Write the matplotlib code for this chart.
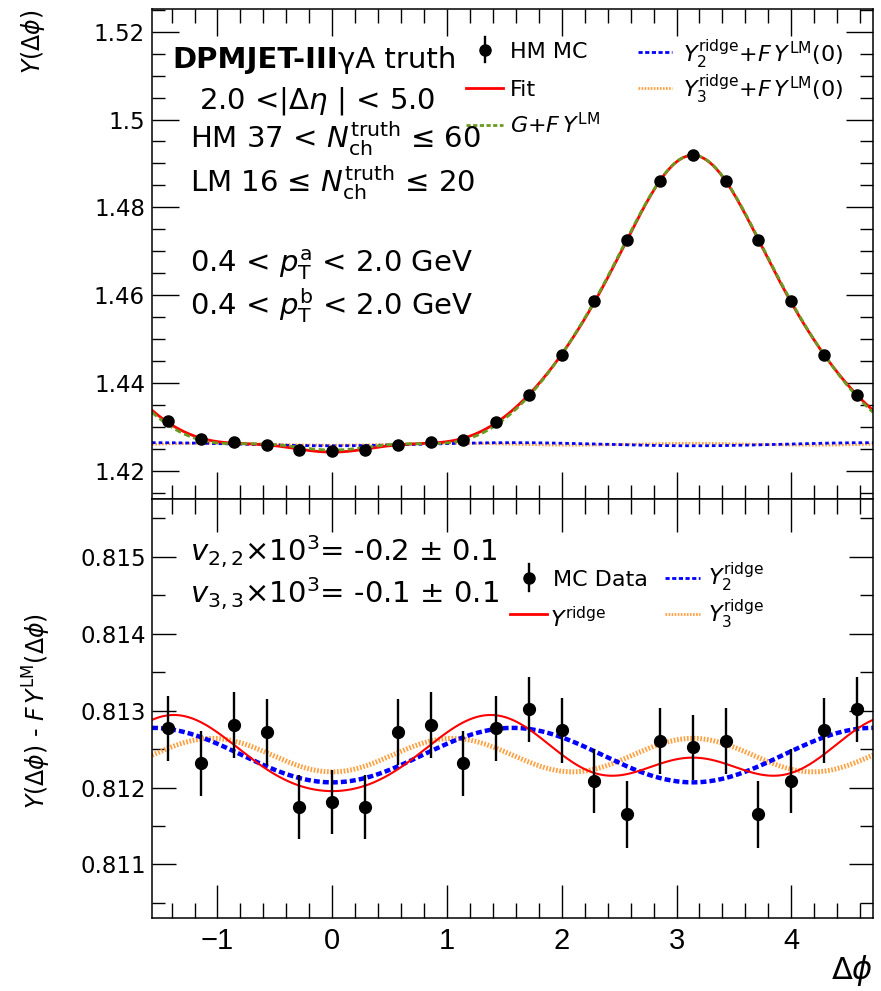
import numpy as np
import matplotlib
matplotlib.use("Agg")
import matplotlib.pyplot as plt
from matplotlib.lines import Line2D
from matplotlib.ticker import MultipleLocator, FuncFormatter

# ---------------------------------------------------------------- data
n_bins = 22
bin_edges = np.linspace(-np.pi / 2, 3 * np.pi / 2, n_bins + 1)
dphi = 0.5 * (bin_edges[:-1] + bin_edges[1:])

# HM per-trigger yield Y(dphi)
y_hm = [1.43126, 1.42726, 1.42648, 1.42596, 1.42470, 1.42462, 1.42470,
        1.42596, 1.42648, 1.42710, 1.43103, 1.43734, 1.44644, 1.45857,
        1.47260, 1.48603, 1.49195, 1.48603, 1.47260, 1.45857, 1.44644,
        1.43734]
y_hm_err = [0.00043, 0.00042, 0.00043, 0.00043, 0.00042, 0.00042, 0.00042,
            0.00043, 0.00043, 0.00042, 0.00043, 0.00042, 0.00042, 0.00042,
            0.00043, 0.00043, 0.00043, 0.00043, 0.00043, 0.00042, 0.00042,
            0.00042]

# HM yield after subtracting the scaled LM template, Y - F*Y_LM
y_sub = [0.812768, 0.812313, 0.812811, 0.812716, 0.811749, 0.811814,
         0.811749, 0.812716, 0.812811, 0.812313, 0.812768, 0.813016,
         0.812746, 0.812087, 0.811650, 0.812607, 0.812521, 0.812607,
         0.811650, 0.812087, 0.812746, 0.813016]
y_sub_err = [0.000427, 0.000418, 0.000427, 0.000429, 0.000420, 0.000416,
             0.000420, 0.000429, 0.000427, 0.000425, 0.000427, 0.000420,
             0.000423, 0.000416, 0.000431, 0.000429, 0.000427, 0.000429,
             0.000431, 0.000416, 0.000423, 0.000420]

# ridge parameters of the template fit
G_ridge = 0.812421
v22, v22_err = -0.218e-3, 0.1e-3
v33, v33_err = -0.134e-3, 0.1e-3
v44 = 0.064e-3
F_YLM0 = 0.61365          # F * Y_LM(0)

x_range = (-np.pi / 2, 3 * np.pi / 2)
y_range_top = (1.4136, 1.5251)
y_range_bot = (0.81030, 0.81575)

# ---------------------------------------------------------------- model curves
n_harm = 7


def cos_basis(x):
    return np.column_stack([np.cos(n * x) for n in range(n_harm + 1)])


coef, *_ = np.linalg.lstsq(cos_basis(dphi), np.asarray(y_hm), rcond=None)
phi = np.linspace(*x_range, 800)
fit_curve = cos_basis(phi) @ coef

ridge2 = G_ridge * (1 + 2 * v22 * np.cos(2 * phi))
ridge3 = G_ridge * (1 + 2 * v33 * np.cos(3 * phi))
ridge = G_ridge * (1 + 2 * v22 * np.cos(2 * phi) + 2 * v33 * np.cos(3 * phi)
                   + 2 * v44 * np.cos(4 * phi))
periph_curve = fit_curve - (ridge - G_ridge)      # G + F*Y_LM

# ---------------------------------------------------------------- style
plt.rcParams['font.family'] = ['DejaVu Sans']
plt.rcParams['mathtext.fontset'] = 'dejavusans'
plt.rcParams['lines.scale_dashes'] = False

RED = '#ff0000'
BLUE = '#0000ff'
ORANGE = '#ffa040'
GREEN = '#6a9a1f'

fig = plt.figure(figsize=(8.81, 9.91), dpi=100)
ax1 = fig.add_axes([0.17253, 0.49647, 0.81839, 0.49415])
ax2 = fig.add_axes([0.17253, 0.07336, 0.81839, 0.42311])

for ax in (ax1, ax2):
    ax.set_xlim(*x_range)
    for sp in ax.spines.values():
        sp.set_linewidth(1.1)
    ax.xaxis.set_major_locator(MultipleLocator(1))
    ax.xaxis.set_minor_locator(MultipleLocator(0.2))
    ax.tick_params(which='both', direction='in', top=True, right=True,
                   width=1.0, labelsize=16.5, pad=4)
    ax.yaxis.set_major_formatter(FuncFormatter(lambda v, p: f"{v:g}"))

ax1.set_ylim(*y_range_top)
ax1.yaxis.set_major_locator(MultipleLocator(0.02))
ax1.yaxis.set_minor_locator(MultipleLocator(0.005))
ax1.tick_params(axis='x', labelbottom=False)
ax1.tick_params(axis='x', which='major', length=19.5)
ax1.tick_params(axis='x', which='minor', length=10)
ax1.tick_params(axis='y', which='major', length=19.5, pad=5)
ax1.tick_params(axis='y', which='minor', length=9.5)

ax2.set_ylim(*y_range_bot)
ax2.yaxis.set_major_locator(MultipleLocator(0.001))
ax2.yaxis.set_minor_locator(MultipleLocator(0.0005))
ax2.tick_params(axis='x', which='major', length=23.8, labelsize=21,
                labelfontfamily='Liberation Sans', pad=6)
ax2.tick_params(axis='x', which='minor', length=10.8)
ax2.tick_params(axis='y', which='major', length=17.3)
ax2.tick_params(axis='y', which='minor', length=9.4)

# ---------------------------------------------------------------- top panel
ax1.plot(phi, ridge3 + F_YLM0, color=ORANGE, lw=2.0, dashes=(1.2, 1.2))
ax1.plot(phi, ridge2 + F_YLM0, color=BLUE, lw=2.0, dashes=(2.6, 2.2))
ax1.plot(phi, fit_curve, color=RED, lw=2.0)
ax1.plot(phi, periph_curve, color=GREEN, lw=2.0, dashes=(4.5, 2.5))
ax1.errorbar(dphi, y_hm, yerr=y_hm_err, fmt='o', color='black', ms=8,
             elinewidth=1.7, capsize=0, zorder=5)

# ---------------------------------------------------------------- bottom panel
ax2.plot(phi, ridge3, color=ORANGE, lw=3.6, dashes=(1.2, 1.2))
ax2.plot(phi, ridge2, color=BLUE, lw=3.2, dashes=(4.3, 2.2))
ax2.plot(phi, ridge, color=RED, lw=1.5)
ax2.errorbar(dphi, y_sub, yerr=y_sub_err, fmt='o', color='black', ms=8.5,
             elinewidth=1.7, capsize=0, zorder=5)

# ---------------------------------------------------------------- legends


def key_line(ax, x0, x1, y, **kw):
    ax.add_line(Line2D([x0, x1], [y, y], transform=ax.transAxes,
                       clip_on=False, **kw))


def key_point(ax, x, y, half):
    ax.add_line(Line2D([x, x], [y - half, y + half], transform=ax.transAxes,
                       color='black', lw=1.7, clip_on=False))
    ax.add_line(Line2D([x], [y], transform=ax.transAxes, marker='o', ms=8,
                       color='black', clip_on=False))


LEG = 16
key_point(ax1, 0.462, 0.917, 0.0255)
ax1.text(0.4965, 0.9006, 'HM MC', transform=ax1.transAxes, fontsize=LEG)
key_line(ax1, 0.4355, 0.4868, 0.839, color=RED, lw=2)
ax1.text(0.4965, 0.8229, 'Fit', transform=ax1.transAxes, fontsize=LEG)
key_line(ax1, 0.4355, 0.4868, 0.764, color=GREEN, lw=2, dashes=(3, 1.8))
ax1.text(0.4965, 0.7474, r'$G$+$F\,Y^{\mathrm{LM}}$', transform=ax1.transAxes,
         fontsize=LEG)
key_line(ax1, 0.674, 0.721, 0.913, color=BLUE, lw=2, dashes=(3, 1.8))
ax1.text(0.7365, 0.8924, r'$Y_{2}^{\mathrm{ridge}}$+$F\,Y^{\mathrm{LM}}$(0)',
         transform=ax1.transAxes, fontsize=LEG)
key_line(ax1, 0.674, 0.721, 0.839, color=ORANGE, lw=2, dashes=(1.2, 1.0))
ax1.text(0.7365, 0.8209, r'$Y_{3}^{\mathrm{ridge}}$+$F\,Y^{\mathrm{LM}}$(0)',
         transform=ax1.transAxes, fontsize=LEG)

key_point(ax2, 0.523, 0.8124, 0.033)
ax2.text(0.556, 0.7925, 'MC Data', transform=ax2.transAxes, fontsize=LEG)
key_line(ax2, 0.4965, 0.548, 0.7258, color=RED, lw=2)
ax2.text(0.552, 0.6947, r'$Y^{\mathrm{ridge}}$', transform=ax2.transAxes,
         fontsize=LEG)
key_line(ax2, 0.7115, 0.760, 0.8124, color=BLUE, lw=2, dashes=(3, 1.8))
ax2.text(0.771, 0.7949, r'$Y_{2}^{\mathrm{ridge}}$', transform=ax2.transAxes,
         fontsize=LEG)
key_line(ax2, 0.7115, 0.760, 0.7258, color=ORANGE, lw=2, dashes=(1.2, 1.0))
ax2.text(0.771, 0.7066, r'$Y_{3}^{\mathrm{ridge}}$', transform=ax2.transAxes,
         fontsize=LEG)

# ---------------------------------------------------------------- labels
TXT = 21
t1 = ax1.text(0.0277, 0.8801, 'DPMJET-III', transform=ax1.transAxes,
              fontsize=TXT, fontweight='bold')
ax1.annotate('\u03b3A truth', xy=(1, 0), xycoords=t1, fontsize=TXT,
             ha='left', va='bottom')
ax1.text(0.065, 0.798, r'2.0 <|$\Delta\eta$ | < 5.0', transform=ax1.transAxes,
         fontsize=TXT)
ax1.text(0.0527, 0.717, r'HM 37 < $N_{\mathrm{ch}}^{\mathrm{truth}}$ ≤ 60',
         transform=ax1.transAxes, fontsize=TXT)
ax1.text(0.0527, 0.627, r'LM 16 ≤ $N_{\mathrm{ch}}^{\mathrm{truth}}$ ≤ 20',
         transform=ax1.transAxes, fontsize=TXT)
ax1.text(0.0527, 0.4636, r'0.4 < $p_{\mathrm{T}}^{\mathrm{a}}$ < 2.0 GeV',
         transform=ax1.transAxes, fontsize=TXT)
ax1.text(0.0527, 0.3757, r'0.4 < $p_{\mathrm{T}}^{\mathrm{b}}$ < 2.0 GeV',
         transform=ax1.transAxes, fontsize=TXT)

ax2.text(0.0527, 0.8505,
         r'$v_{2,2}$×10$^{3}$= ' + f'{v22 * 1e3:.1f}' + r' $\pm$ '
         + f'{v22_err * 1e3:.1f}', transform=ax2.transAxes, fontsize=TXT)
ax2.text(0.0527, 0.7512,
         r'$v_{3,3}$×10$^{3}$= ' + f'{v33 * 1e3:.1f}' + r' $\pm$ '
         + f'{v33_err * 1e3:.1f}', transform=ax2.transAxes, fontsize=TXT)

fig.text(0.0375, 0.990, r'$Y(\Delta\phi)$', rotation=90, ha='center',
         va='top', fontsize=17)
fig.text(0.042, 0.2825, r'$Y(\Delta\phi)$ - $F\,Y^{\mathrm{LM}}(\Delta\phi)$',
         rotation=90, ha='center', va='center', fontsize=17)
fig.text(0.991, 0.021, r'$\Delta\phi$', ha='right', va='center', fontsize=22)

fig.savefig('out.png', dpi=100)
